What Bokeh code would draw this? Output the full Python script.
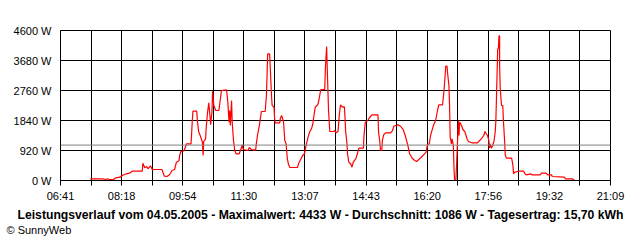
from bokeh.plotting import figure
from bokeh.models import Range1d, FixedTicker, Span, Title, CustomJSTickFormatter
from bokeh.embed import file_html
from bokeh.resources import INLINE

# time in minutes since midnight, power in W
times = [448, 468, 472, 475, 478, 485, 488, 495, 498, 501,
         505, 511, 514, 530, 531, 534, 537, 539, 543, 546,
         548, 561, 565, 569, 573, 577, 581, 584, 588, 589,
         591, 596, 598, 600, 607, 608, 609, 610, 616, 617,
         619, 622, 625, 626, 627, 630, 631, 633, 635, 637,
         638, 640, 641, 643, 646, 651, 652, 655, 663, 665,
         667, 668, 669, 671, 672, 674, 676, 678, 683, 686,
         688, 689, 690, 697, 699, 702, 709, 710, 712, 715,
         718, 724, 726, 728, 731, 732, 734, 735, 738, 739,
         740, 747, 748, 750, 752, 753, 755, 757, 759, 761,
         763, 775, 777, 780, 783, 786, 788, 791, 794, 797,
         799, 801, 803, 807, 809, 811, 812, 818, 819, 820,
         821, 822, 824, 826, 832, 834, 836, 839, 841, 843,
         846, 849, 850, 851, 853, 854, 856, 859, 861, 863,
         867, 869, 872, 879, 880, 882, 886, 889, 893, 902,
         903, 905, 906, 908, 909, 911, 914, 922, 925, 927,
         930, 934, 938, 942, 945, 949, 952, 956, 960, 963,
         966, 970, 974, 978, 980, 983, 985, 988, 990, 993,
         996, 998, 1004, 1006, 1008, 1009, 1011, 1012, 1014, 1015,
         1016, 1018, 1019, 1021, 1022, 1023, 1025, 1026, 1029, 1030,
         1031, 1034, 1036, 1039, 1041, 1043, 1045, 1050, 1059, 1061,
         1065, 1069, 1071, 1073, 1075, 1077, 1078, 1079, 1081, 1083,
         1085, 1087, 1088, 1089, 1090, 1091, 1092, 1093, 1094, 1094,
         1095, 1097, 1099, 1100, 1102, 1103, 1105, 1113, 1115, 1116,
         1118, 1124, 1132, 1134, 1136, 1143, 1145, 1158, 1160, 1167,
         1170, 1176, 1177, 1196, 1198, 1209, 1212]

watts = [52, 52, 31, 52, 31, 31, 83, 101, 144, 175,
         205, 236, 285, 285, 531, 389, 429, 359, 451, 328,
         337, 337, 132, 123, 175, 307, 337, 561, 604, 767,
         889, 911, 1021, 1125, 1125, 1463, 1840, 2125, 2125, 1840,
         1503, 1349, 1175, 767, 1196, 1279, 1635, 2076, 2383, 1941,
         1708, 2116, 2739, 2300, 2147, 2147, 2300, 2760, 2782, 2423,
         1788, 2147, 1687, 2453, 1788, 1227, 920, 819, 819, 972,
         1095, 972, 951, 920, 1012, 951, 929, 1125, 1401, 1708,
         2116, 2116, 2607, 3886, 3886, 3475, 2607, 2300, 2248, 1871,
         1769, 1769, 1911, 1993, 1871, 1788, 1227, 1125, 665, 481,
         399, 399, 531, 644, 767, 819, 1021, 1279, 1481, 1585,
         1708, 1993, 2248, 2322, 2484, 2708, 2791, 2791, 3425, 3781,
         4109, 3425, 2147, 1503, 1503, 1533, 1463, 1503, 2015, 2322,
         2248, 2260, 1941, 1503, 1156, 819, 561, 512, 408, 561,
         665, 788, 991, 991, 1380, 1788, 1840, 1941, 2015, 2015,
         1481, 1175, 920, 920, 1227, 1401, 1463, 1463, 1533, 1665,
         1687, 1708, 1656, 1555, 1380, 1095, 819, 684, 613, 583,
         635, 705, 788, 868, 1095, 1125, 1380, 1585, 1708, 1840,
         2147, 2322, 2322, 2708, 3220, 3505, 3505, 3272, 2913, 2300,
         1328, 1125, 1279, 1073, 359, 0, 0, 460, 1840, 1380,
         1788, 1687, 1564, 1503, 1380, 1257, 1196, 1156, 1156, 1196,
         1279, 1380, 1503, 1432, 1380, 1227, 991, 1125, 991, 1073,
         1196, 1481, 1788, 2506, 3272, 4039, 4039, 4433, 4433, 3527,
         2812, 2300, 2300, 1840, 1175, 767, 684, 684, 460, 205,
         255, 285, 285, 205, 175, 205, 175, 175, 224, 224,
         175, 175, 123, 101, 52, 52, 0]

x_tick_labels = ["06:41", "", "08:18", "", "09:54", "", "11:30", "", "13:07", "",
                 "14:43", "", "16:20", "", "17:56", "", "19:32", "", "21:09"]
y_ticks = [0, 920, 1840, 2760, 3680, 4600]
x_start, x_end = 401, 1269
average = 1086
title_text = ("Leistungsverlauf vom 04.05.2005 - Maximalwert: 4433 W - "
              "Durchschnitt: 1086 W - Tagesertrag: 15,70 kWh")
credit_text = "\u00a9 SunnyWeb"

FONT = "Liberation Sans"

p = figure(width=640, height=240, output_backend="svg", toolbar_location=None,
           x_range=Range1d(x_start, x_end), y_range=Range1d(y_ticks[0], y_ticks[-1]),
           min_border_left=60, min_border_right=30, min_border_top=30,
           min_border_bottom=60, background_fill_color="white",
           border_fill_color="white")

n = len(x_tick_labels)
x_ticks = [x_start + i * (x_end - x_start) / (n - 1) for i in range(n)]

p.xaxis.ticker = FixedTicker(ticks=x_ticks)
p.xaxis.formatter = CustomJSTickFormatter(args=dict(labels=x_tick_labels),
                                          code="return labels[index] || '';")
p.yaxis.ticker = FixedTicker(ticks=y_ticks)
p.yaxis.formatter = CustomJSTickFormatter(code="return tick + ' W';")

for ax in (p.xaxis, p.yaxis):
    ax.axis_line_color = "black"
    ax.major_tick_line_color = "black"
    ax.minor_tick_line_color = None
    ax.major_tick_in = 0
    ax.major_label_text_font = FONT
    ax.major_label_text_font_size = "11px"
    ax.major_label_text_color = "black"

p.xaxis.major_tick_out = 5
p.xaxis.major_label_standoff = 4
p.yaxis.major_tick_out = 0
p.yaxis.major_label_standoff = 9

p.xgrid.ticker = FixedTicker(ticks=x_ticks)
p.ygrid.ticker = FixedTicker(ticks=y_ticks)
p.grid.grid_line_color = "black"
p.grid.grid_line_alpha = 1.0
p.grid.grid_line_width = 1
p.outline_line_color = "black"
p.outline_line_alpha = 1.0

p.add_layout(Span(location=average, dimension="width", line_color="#808080",
                  line_width=1))

p.line(times, watts, line_color="#ff0000", line_width=1.2)

p.add_layout(Title(text=title_text, align="left", offset=-43, standoff=3,
                   text_font=FONT, text_font_style="bold", text_font_size="12.2px",
                   text_color="black"), "below")
p.add_layout(Title(text=credit_text, align="left", offset=-54, standoff=0,
                   vertical_align="top",
                   text_font=FONT, text_font_style="normal", text_font_size="11px",
                   text_color="black"), "below")

open("out.html", "w").write(file_html(p, INLINE))
